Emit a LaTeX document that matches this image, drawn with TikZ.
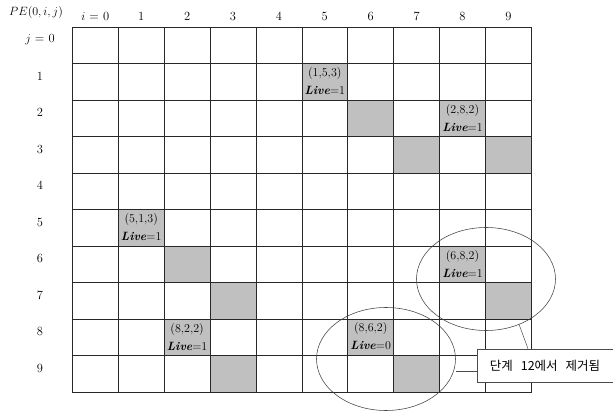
\documentclass[tikz,border=0pt]{standalone}
\usepackage{fontspec}
\newfontfamily\krfont[WordSpace=2.8]{Noto Sans CJK KR}
\usepackage{tikz}
\usetikzlibrary{positioning,shapes.geometric,shadows,backgrounds}
\definecolor{cellgrey}{RGB}{192,192,192}
\definecolor{gridline}{RGB}{40,40,40}
\tikzset{
  cell/.style={draw=gridline, line width=0.7pt, minimum width=45.9pt, minimum height=36.5pt, inner sep=0pt, anchor=north west},
  tag/.style={align=center, inner sep=0pt, font=\fontsize{12}{18}\selectfont},
  lbl/.style={inner sep=2pt, font=\fontsize{12.5}{14}\selectfont},
  ring/.style={draw=black!75, line width=0.55pt, ellipse, minimum width=139pt, minimum height=103pt, inner sep=0pt},
  note/.style={draw=black!70, fill=white, line width=0.5pt, minimum width=136pt, minimum height=33pt, inner sep=4pt, font=\krfont\fontsize{12.5}{14}\selectfont, drop shadow={shadow xshift=1.2pt, shadow yshift=-1.2pt, fill=black!25}},
  callout/.style={draw=black!70, line width=0.5pt}
}
\newcommand{\live}{\textbf{\textit{Live}}}

\begin{document}
\begin{tikzpicture}[x=1pt, y=-1pt]
\useasboundingbox (0,0) rectangle (613,411);
% the 10x10 grid of processing elements
\foreach \i in {0,...,9}
  \foreach \j in {0,...,9}
    \node[cell] (c-\i-\j) at ({72+\i*45.9},{27+\j*36.5}) {};
\begin{scope}[on background layer]
  \foreach \i/\j in {5/1,6/2,7/3,8/2,9/3,1/5,2/6,3/7,2/8,3/9,8/6,9/7,6/8,7/9}
    \fill[cellgrey] (c-\i-\j.north west) rectangle (c-\i-\j.south east);
\end{scope}
% headers
\node[lbl] (pe) at (36,13) {$PE(0,i,j)$};
\node[lbl, above=4pt of c-0-0] (h-0) {$i$ = 0};
\foreach \i in {1,...,9}
  \node[lbl, above=4pt of c-\i-0] (h-\i) {\i};
\node[lbl] (r-0) at ([xshift=-32pt, yshift=6pt]c-0-0.west) {$j$ = 0};
\foreach \j in {1,...,9}
  \node[lbl] (r-\j) at ([xshift=-32pt, yshift=6pt]c-0-\j.west) {\j};
% live tags
\node[tag] (t-1) at ([yshift=1pt]c-5-1) {(1,5,3)\\\live=1};
\node[tag] (t-2) at ([yshift=1pt]c-8-2) {(2,8,2)\\\live=1};
\node[tag] (t-3) at ([yshift=1pt]c-1-5) {(5,1,3)\\\live=1};
\node[tag] (t-4) at ([yshift=1pt]c-8-6) {(6,8,2)\\\live=1};
\node[tag] (t-5) at ([yshift=1pt]c-2-8) {(8,2,2)\\\live=1};
\node[tag] (t-6) at ([yshift=1pt]c-6-8) {(8,6,2)\\\live=0};
% removed pairs
\node[ring] (e1) at (486,279) {};
\node[ring] (e2) at (386,359) {};
\node[note] (nt) at (545,365.5) {단계 12에서 제거됨};
\draw[callout] ([yshift=-5.5pt]nt.west) -- ([yshift=-5.5pt]nt.west -| e2.east);
\draw[callout] ([xshift=-17pt]nt.north) -- (e1.-54);
\end{tikzpicture}
\end{document}
